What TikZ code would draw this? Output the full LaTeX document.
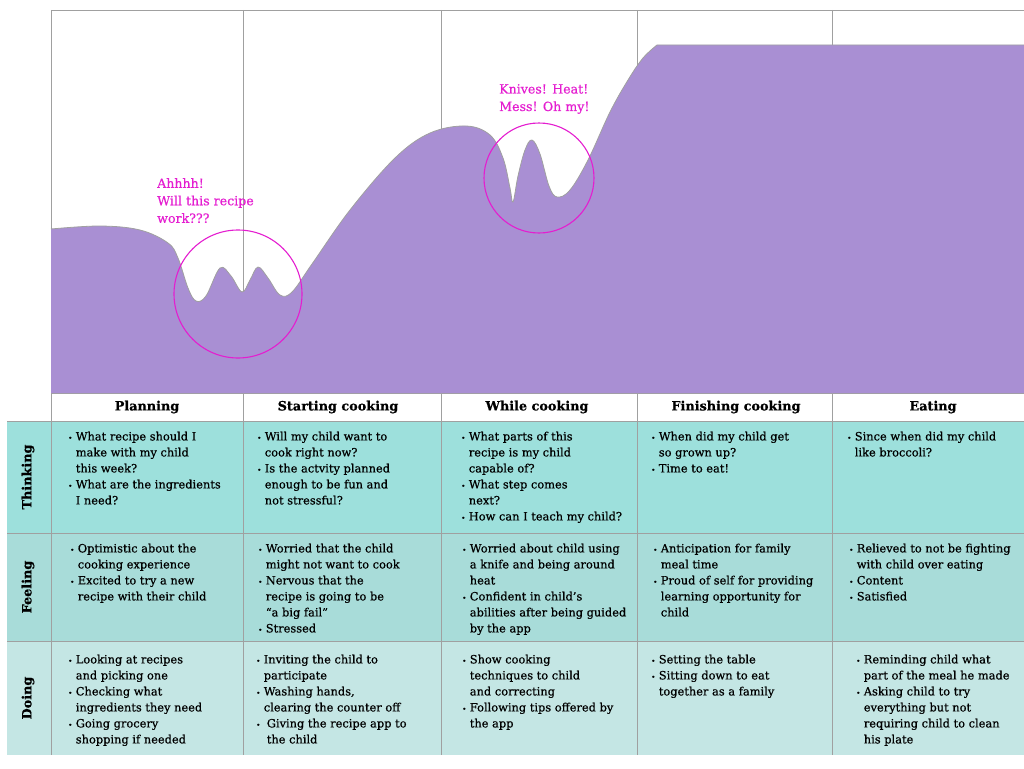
\documentclass[tikz,border=0pt]{standalone}
\usepackage{fontspec}
\setmainfont{DejaVu Serif}[RawFeature={embolden=0.6}]
\definecolor{lilac}{RGB}{169,143,211}
\definecolor{mag}{RGB}{228,30,208}
\definecolor{thinkbg}{RGB}{157,224,220}
\definecolor{feelbg}{RGB}{168,220,217}
\definecolor{dobg}{RGB}{196,230,228}
\definecolor{gridgray}{RGB}{160,160,160}
\newcommand{\bul}{{\fontsize{7}{7}\selectfont\textbullet}}
\newcommand{\cellbox}[1]{\begin{tabular}{@{}l@{\hspace{3.5pt}}l@{}}#1\end{tabular}}
\begin{document}
\begin{tikzpicture}[x=1pt, y=-1pt,
  cell/.style={anchor=north west, inner sep=0pt, font=\fontsize{11.4}{16}\selectfont},
  head/.style={inner sep=0pt, font=\bfseries\fontsize{12.8}{14}\selectfont},
  rowlabel/.style={inner sep=0pt, rotate=90, font=\bfseries\fontsize{12.8}{14}\selectfont},
  shout/.style={anchor=north west, inner sep=0pt, align=left, text=mag, font=\fontsize{12.6}{17.5}\selectfont},
  ring/.style={circle, draw=mag, line width=1.1pt, inner sep=0pt}]
\useasboundingbox (0,0) rectangle (1024,768);
\fill[thinkbg] (7,421) rectangle (1024,533);
\fill[feelbg] (7,533) rectangle (1024,641);
\fill[dobg] (7,641) rectangle (1024,755);
\draw[gridgray, line width=0.8pt] (51,10) -- (1024,10);
\foreach \x in {51, 243, 441, 637, 832} \draw[gridgray, line width=0.8pt] (\x,10) -- (\x,755);
\draw[gridgray, line width=0.8pt] (51,393) -- (1024,393);
\foreach \y in {421, 533, 641} \draw[gridgray, line width=0.8pt] (7,\y) -- (1024,\y);
% emotion curve
\fill[lilac] plot[smooth, tension=0.6] coordinates {(51,229) (100,226) (140,230) (168,243) (178,258) (188,288) (196,301) (206,296) (220,268) (231,276) (242,292) (250,280) (258,267) (268,278) (280,295) (292,292) (312,264) (350,210) (395,158) (430,133) (466,126) (490,135) (503,158) (510,188) (513,202) (518,176) (525,150) (532,140) (540,154) (549,186) (557,197) (570,190) (588,160) (610,112) (628,80) (643,58) (657,45)} -- (1024,45) -- (1024,393) -- (51,393) -- cycle;
\draw[gridgray, line width=0.8pt] plot[smooth, tension=0.6] coordinates {(51,229) (100,226) (140,230) (168,243) (178,258) (188,288) (196,301) (206,296) (220,268) (231,276) (242,292) (250,280) (258,267) (268,278) (280,295) (292,292) (312,264) (350,210) (395,158) (430,133) (466,126) (490,135) (503,158) (510,188) (513,202) (518,176) (525,150) (532,140) (540,154) (549,186) (557,197) (570,190) (588,160) (610,112) (628,80) (643,58) (657,45)} -- (1024,45);
\node[ring, minimum size=128pt] (dipA) at (238,294) {};
\node[ring, minimum size=110pt] (dipB) at (539,178) {};
\node[shout] (cryA) at (157,178) {Ahhhh!\\Will this recipe\\work???};
\node[shout] (cryB) at (499,84) {Knives! Heat!\\Mess! Oh my!};
% stage headers
\node[head] (plan) at (147,407) {Planning};
\node[head] (start) at (338,407) {Starting cooking};
\node[head] (while) at (537,407) {While cooking};
\node[head] (finish) at (736,407) {Finishing cooking};
\node[head] (eat) at (933,407) {Eating};
\node[rowlabel] (think) at (28,477) {Thinking};
\node[rowlabel] (feel) at (28,587) {Feeling};
\node[rowlabel] (do) at (28,698) {Doing};
% thinking
\node[cell] (t1) at (68,429) {\cellbox{\bul & What recipe should I\\ & make with my child\\ & this week?\\ \bul & What are the ingredients\\ & I need?}};
\node[cell] (t2) at (257,429) {\cellbox{\bul & Will my child want to\\ & cook right now?\\ \bul & Is the actvity planned\\ & enough to be fun and\\ & not stressful?}};
\node[cell] (t3) at (461,429) {\cellbox{\bul & What parts of this\\ & recipe is my child\\ & capable of?\\ \bul & What step comes\\ & next?\\ \bul & How can I teach my child?}};
\node[cell] (t4) at (651,429) {\cellbox{\bul & When did my child get\\ & so grown up?\\ \bul & Time to eat!}};
\node[cell] (t5) at (847,429) {\cellbox{\bul & Since when did my child\\ & like broccoli?}};
% feeling
\node[cell] (f1) at (70,541) {\cellbox{\bul & Optimistic about the\\ & cooking experience\\ \bul & Excited to try a new\\ & recipe with their child}};
\node[cell] (f2) at (258,541) {\cellbox{\bul & Worried that the child\\ & might not want to cook\\ \bul & Nervous that the\\ & recipe is going to be\\ & ``a big fail''\\ \bul & Stressed}};
\node[cell] (f3) at (462,541) {\cellbox{\bul & Worried about child using\\ & a knife and being around\\ & heat\\ \bul & Confident in child's\\ & abilities after being guided\\ & by the app}};
\node[cell] (f4) at (653,541) {\cellbox{\bul & Anticipation for family\\ & meal time\\ \bul & Proud of self for providing\\ & learning opportunity for\\ & child}};
\node[cell] (f5) at (849,541) {\cellbox{\bul & Relieved to not be fighting\\ & with child over eating\\ \bul & Content\\ \bul & Satisfied}};
% doing
\node[cell] (d1) at (68,652) {\cellbox{\bul & Looking at recipes\\ & and picking one\\ \bul & Checking what\\ & ingredients they need\\ \bul & Going grocery\\ & shopping if needed}};
\node[cell] (d2) at (256,652) {\cellbox{\bul & Inviting the child to\\ & participate\\ \bul & Washing hands,\\ & clearing the counter off\\ \bul & \hspace{3pt}Giving the recipe app to\\ & \hspace{3pt}the child}};
\node[cell] (d3) at (462,652) {\cellbox{\bul & Show cooking\\ & techniques to child\\ & and correcting\\ \bul & Following tips offered by\\ & the app}};
\node[cell] (d4) at (651,652) {\cellbox{\bul & Setting the table\\ \bul & Sitting down to eat\\ & together as a family}};
\node[cell] (d5) at (856,652) {\cellbox{\bul & Reminding child what\\ & part of the meal he made\\ \bul & Asking child to try\\ & everything but not\\ & requiring child to clean\\ & his plate}};
\end{tikzpicture}
\end{document}
